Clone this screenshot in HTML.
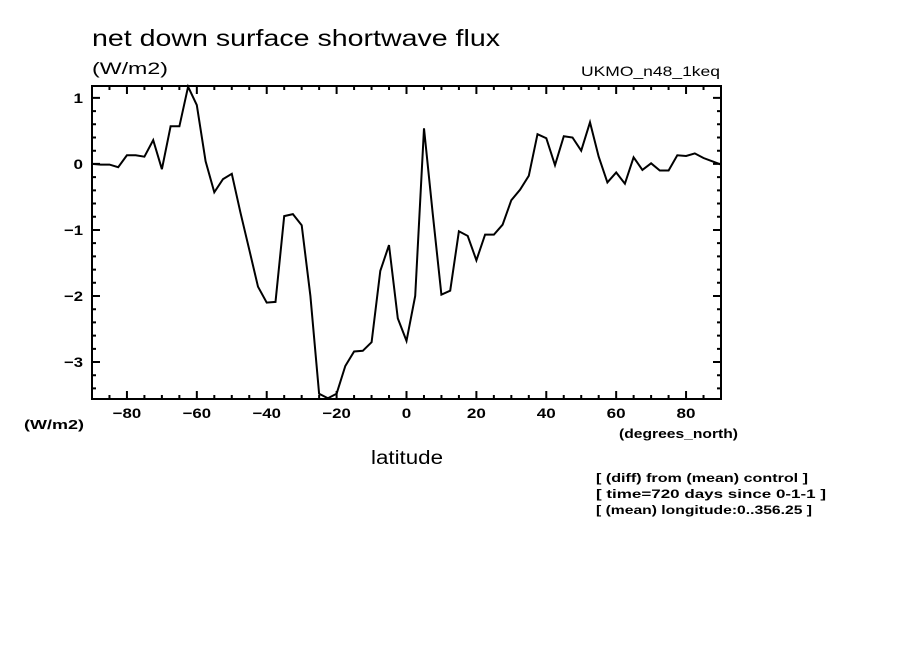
<!DOCTYPE html>
<html><head><meta charset="utf-8"><style>
body{margin:0;background:#fff;}
svg{display:block;font-family:"Liberation Sans",sans-serif;}
</style></head><body>
<svg id="chart" width="904" height="654" viewBox="0 0 904 654">
<rect width="904" height="654" fill="#fff"/>
<text x="92" y="46" font-size="23" textLength="408" lengthAdjust="spacingAndGlyphs">net down surface shortwave flux</text>
<text x="92" y="74" font-size="17" textLength="76" lengthAdjust="spacingAndGlyphs">(W/m2)</text>
<text x="581" y="76" font-size="14" textLength="139" lengthAdjust="spacingAndGlyphs">UKMO_n48_1keq</text>
<text x="24" y="429" font-size="13" font-weight="bold" textLength="60" lengthAdjust="spacingAndGlyphs">(W/m2)</text>
<text x="619" y="438" font-size="13" font-weight="bold" textLength="119" lengthAdjust="spacingAndGlyphs">(degrees_north)</text>
<text x="371" y="464" font-size="19" textLength="72" lengthAdjust="spacingAndGlyphs">latitude</text>
<text x="596" y="482" font-size="12" font-weight="bold" textLength="212" lengthAdjust="spacingAndGlyphs">[ (diff) from (mean) control ]</text>
<text x="596" y="498" font-size="12" font-weight="bold" textLength="230" lengthAdjust="spacingAndGlyphs">[ time=720 days since 0-1-1 ]</text>
<text x="596" y="514" font-size="12" font-weight="bold" textLength="216" lengthAdjust="spacingAndGlyphs">[ (mean) longitude:0..356.25 ]</text>
<g id="axes"></g>
<g id="series"></g>
</svg>
<script>
const xTickValues=[-80,-60,-40,-20,0,20,40,60,80];
const yTickValues=[-3,-2,-1,0,1];
const latitudes=[];for(let i=0;i<=72;i++)latitudes.push(-90+2.5*i);
const fluxValues=[0.0,-0.01,-0.01,-0.05,0.13,0.13,0.11,0.36,-0.08,0.57,0.57,1.17,0.89,0.04,-0.43,-0.23,-0.15,-0.74,-1.3,-1.86,-2.1,-2.09,-0.79,-0.76,-0.93,-2.0,-3.48,-3.55,-3.48,-3.06,-2.84,-2.83,-2.7,-1.62,-1.23,-2.34,-2.68,-2.0,0.54,-0.75,-1.98,-1.92,-1.02,-1.09,-1.46,-1.07,-1.07,-0.92,-0.55,-0.39,-0.18,0.45,0.39,-0.02,0.42,0.4,0.2,0.63,0.11,-0.28,-0.13,-0.3,0.1,-0.09,0.01,-0.1,-0.1,0.13,0.12,0.16,0.09,0.04,-0.01];
const L=92,R=721,T=86,B=399,xMin=-90,xMax=90,yMin=-3.56,yMax=1.18;
const NS="http://www.w3.org/2000/svg";
const xs=v=>L+(v-xMin)/(xMax-xMin)*(R-L);
const ys=v=>T+(yMax-v)/(yMax-yMin)*(B-T);
function mk(tag,at,par){const e=document.createElementNS(NS,tag);for(const k in at)e.setAttribute(k,at[k]);par.appendChild(e);return e;}
const ax=document.getElementById('axes');
const frame=mk('rect',{x:L,y:T,width:R-L,height:B-T,fill:'none',stroke:'#000','stroke-width':2},ax);


let d='';
for(let v=-90;v<=90;v+=5){const x=xs(v);const len=(v%20===0)?8:4;d+=`M${x},${B}v${-len}M${x},${T}v${len}`;}
for(let k=-35;k<=11;k++){const v=k*0.2;if(v<yMin||v>yMax)continue;const y=ys(v);const maj=(k%5===0);const len=maj?8:4;d+=`M${L},${y}h${len}M${R},${y}h${-len}`;}
const tk=mk('path',{d:d,stroke:'#000','stroke-width':2,fill:'none'},ax);


xTickValues.forEach(v=>{const s=v<0?'\u2212'+(-v):String(v);const w=s.length*9.5;const t=mk('text',{x:xs(v)-w/2,y:B+19,'font-size':14,'font-weight':'bold',textLength:w,lengthAdjust:'spacingAndGlyphs'},ax);t.textContent=s;

});
yTickValues.forEach(v=>{const s=v<0?'\u2212'+(-v):String(v);const w=s.length*9.5;const t=mk('text',{x:L-9-w,y:ys(v)+5,'font-size':14,'font-weight':'bold',textLength:w,lengthAdjust:'spacingAndGlyphs'},ax);t.textContent=s;

});
const pts=latitudes.map((v,i)=>xs(v).toFixed(1)+','+ys(fluxValues[i]).toFixed(1)).join(' ');
const line=mk('polyline',{points:pts,fill:'none',stroke:'#000','stroke-width':2,'stroke-linejoin':'miter'},document.getElementById('series'));


</script>
</body></html>
